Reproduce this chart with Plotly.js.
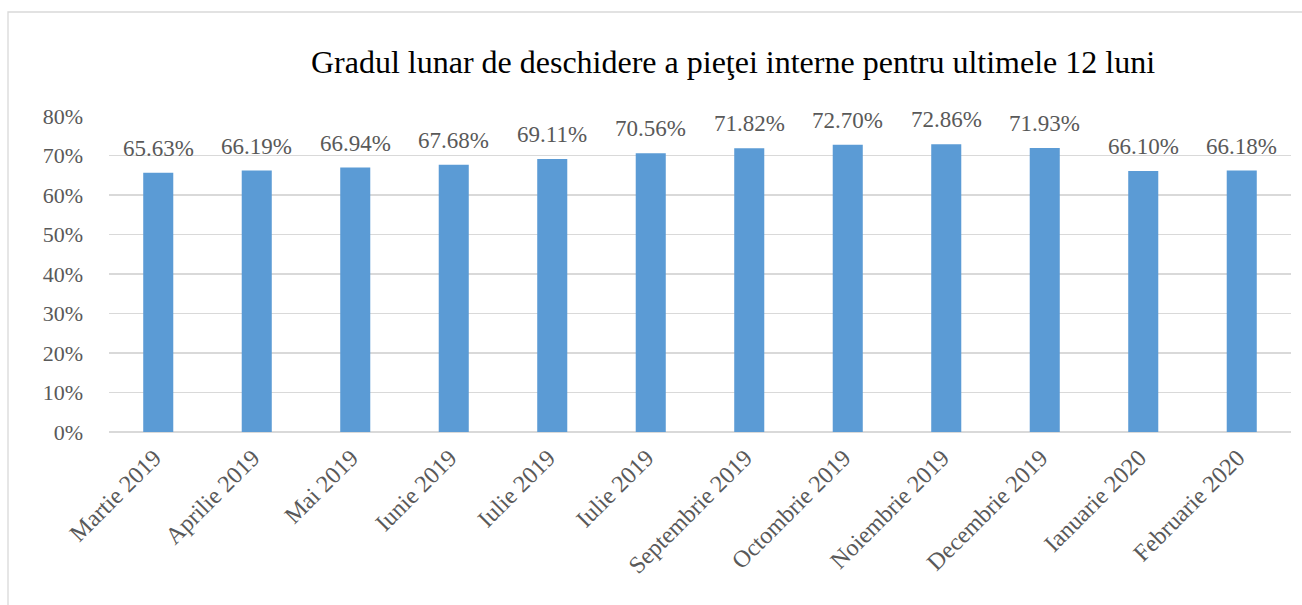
<!DOCTYPE html>
<html>
<head>
<meta charset="utf-8">
<script src="https://cdn.plot.ly/plotly-3.0.1.min.js"></script>
<style>
html,body{margin:0;padding:0;background:#fff;}
#chart{width:1302px;height:605px;}
</style>
</head>
<body>
<div id="chart"></div>
<script>
const categories = ["Martie 2019","Aprilie 2019","Mai 2019","Iunie 2019","Iulie 2019","Iulie 2019","Septembrie 2019","Octombrie 2019","Noiembrie 2019","Decembrie 2019","Ianuarie 2020","Februarie 2020"];
const values = [65.63, 66.19, 66.94, 67.68, 69.11, 70.56, 71.82, 72.70, 72.86, 71.93, 66.10, 66.18];
const yTickVals = [0,10,20,30,40,50,60,70,80];
const yTickText = ["0%","10%","20%","30%","40%","50%","60%","70%","80%"];
const chartTitle = "Gradul lunar de deschidere a pieţei interne pentru ultimele 12 luni";

const idx = categories.map((c,i)=>i);
const font = "Liberation Serif";
const gray = "#595959";

const trace = {
  type: "bar",
  x: idx,
  y: values,
  marker: {color: "#5B9BD5", line: {width: 0}},
  hoverinfo: "none"
};

const annotations = values.map((v,i)=>({
  x: i, y: v, xref: "x", yref: "y",
  text: v.toFixed(2) + "%",
  showarrow: false,
  yanchor: "bottom",
  yshift: 10,
  font: {family: font, size: 23, color: gray}
}));

const layout = {
  width: 1302, height: 605,
  margin: {l: 109, r: 11, t: 116, b: 173},
  paper_bgcolor: "#fff", plot_bgcolor: "#fff",
  font: {family: font},
  title: {
    text: chartTitle,
    font: {family: font, size: 32, color: "#000"},
    xref: "container", x: 733/1302, xanchor: "center",
    yref: "container", y: 1 - 62/605, yanchor: "middle"
  },
  bargap: 0.695,
  showlegend: false,
  xaxis: {
    range: [-0.5, 11.5],
    tickvals: idx,
    ticktext: categories,
    tickangle: -45,
    tickfont: {family: font, size: 24, color: gray},
    showgrid: false, zeroline: false, showline: false, ticks: "",
    ticklabelstandoff: 6,
    ticklabelshift: -4
  },
  yaxis: {
    range: [0, 80],
    tickvals: yTickVals,
    ticktext: yTickText,
    tickfont: {family: font, size: 22, color: gray},
    showgrid: true, gridcolor: "#d9d9d9", gridwidth: 1.3,
    zeroline: true, zerolinecolor: "#d9d9d9", zerolinewidth: 1.3,
    showline: false, ticks: "",
    ticklabelstandoff: 25
  },
  annotations: annotations,
  shapes: [{
    type: "rect", xref: "paper", yref: "paper",
    x0: (8-109)/1182, x1: 2, y0: -2, y1: (432-12)/316,
    line: {color: "#d9d9d9", width: 1.3}, fillcolor: "rgba(0,0,0,0)", layer: "below"
  }]
};

Plotly.newPlot("chart", [trace], layout, {displayModeBar: false, staticPlot: true});
</script>
</body>
</html>
